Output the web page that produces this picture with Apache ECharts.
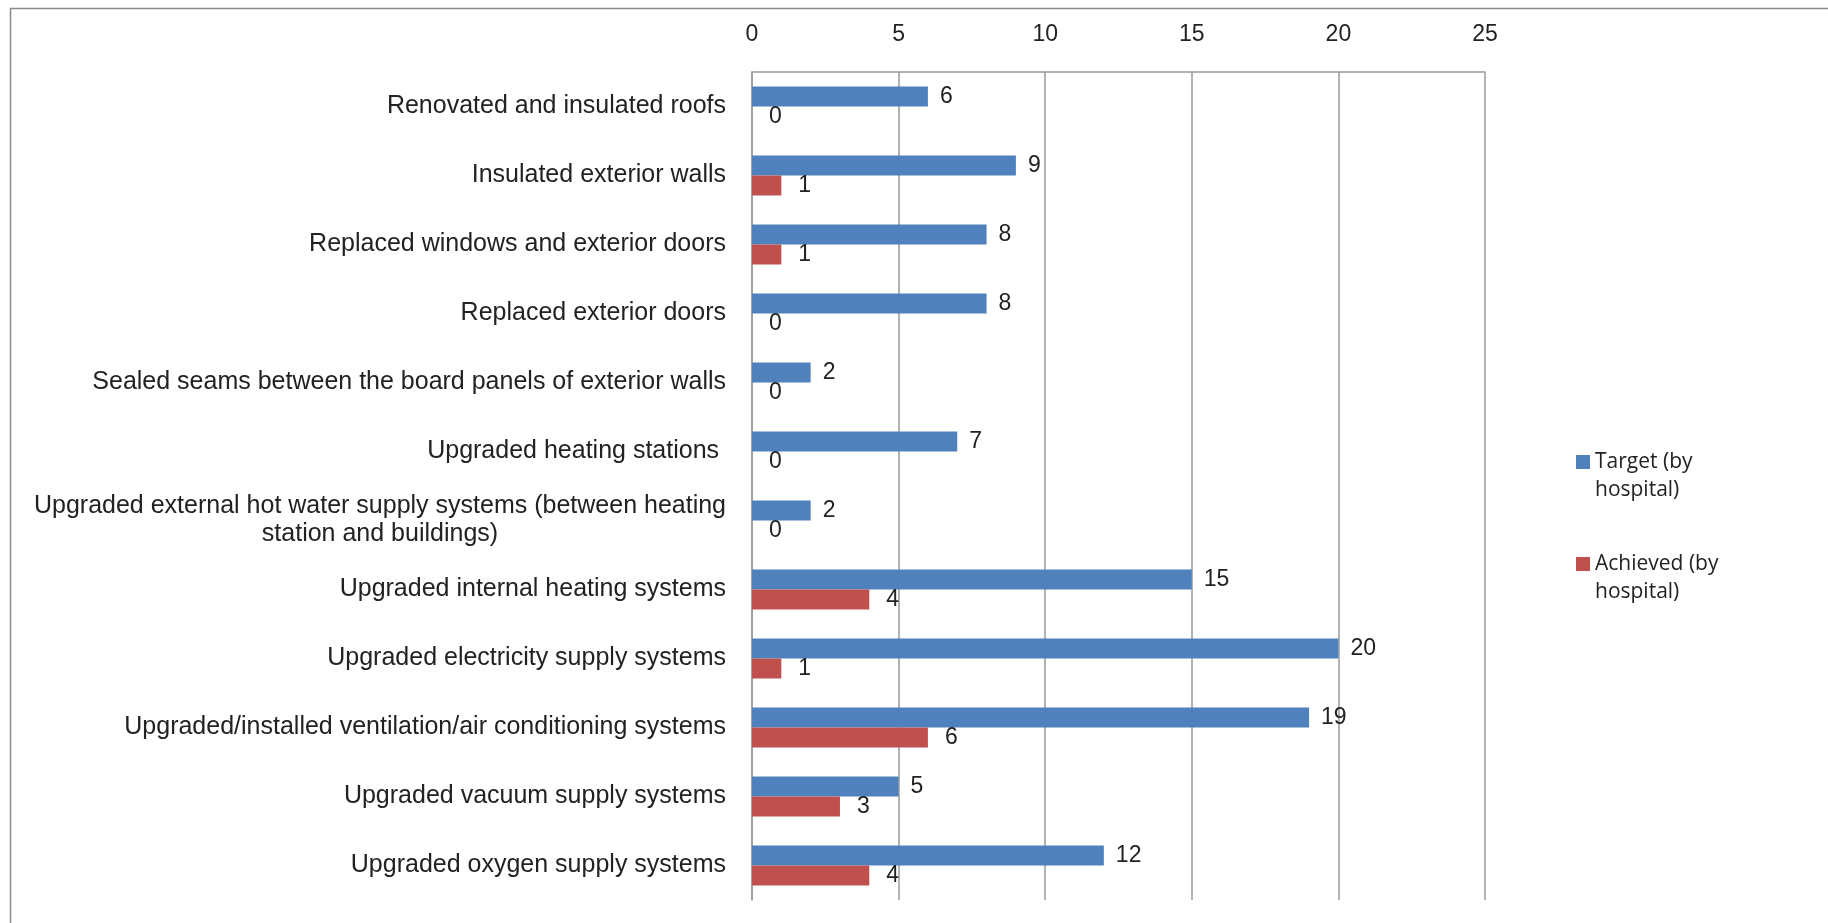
<!DOCTYPE html>
<html>
<head>
<meta charset="utf-8">
<script src="https://cdn.jsdelivr.net/npm/echarts@6/dist/echarts.min.js"></script>
<style>html,body{margin:0;padding:0;background:#fff}#c{width:1828px;height:923px}</style>
</head>
<body>
<div id="c"></div>
<script>
const categories = [
  "Renovated and insulated roofs",
  "Insulated exterior walls",
  "Replaced windows and exterior doors",
  "Replaced exterior doors",
  "Sealed seams between the board panels of exterior walls",
  "Upgraded heating stations ",
  "Upgraded external hot water supply systems (between heating\nstation and buildings)",
  "Upgraded internal heating systems",
  "Upgraded electricity supply systems",
  "Upgraded/installed ventilation/air conditioning systems",
  "Upgraded vacuum supply systems",
  "Upgraded oxygen supply systems"
];
const targetValues = [6, 9, 8, 8, 2, 7, 2, 15, 20, 19, 5, 12];
const achievedValues = [0, 1, 1, 0, 0, 0, 0, 4, 1, 6, 3, 4];
const xTicks = [0, 5, 10, 15, 20, 25];
const seriesNames = ["Target (by\nhospital)", "Achieved (by\nhospital)"];

const FONT = '"Liberation Sans", Arial, sans-serif';
const catStyle = {fontFamily: FONT, fontSize: 25, color: '#222', lineHeight: 28, align: 'center'};
const chart = echarts.init(document.getElementById('c'), null, {renderer: 'canvas'});
chart.setOption({
  animation: false,
  backgroundColor: '#fff',
  graphic: [{
    type: 'rect', left: 8, top: 6, silent: true,
    shape: {width: 1900, height: 1000},
    style: {fill: 'none', stroke: '#8c8c8c', lineWidth: 1.5}
  }],
  grid: {left: 752, right: 343, top: 72, bottom: 23, containLabel: false},
  legend: {
    orient: 'vertical', left: 1576, top: 420, padding: 0,
    itemWidth: 14, itemHeight: 14, itemGap: 18,
    icon: 'rect',
    formatter: name => ' \n' + name,
    textStyle: {fontFamily: '"Open Sans", sans-serif', fontSize: 21, color: '#222', lineHeight: 28},
    data: seriesNames
  },
  xAxis: {
    type: 'value', position: 'top', min: xTicks[0], max: xTicks[xTicks.length - 1], interval: 5,
    axisLine: {show: true, lineStyle: {color: '#9a9a9a', width: 1.5}},
    axisTick: {show: false},
    splitLine: {show: true, lineStyle: {color: '#9a9a9a', width: 1.5}},
    axisLabel: {margin: 26, fontFamily: FONT, fontSize: 23, color: '#222'}
  },
  yAxis: {
    type: 'category', inverse: true, data: categories,
    axisLine: {show: true, lineStyle: {color: '#9a9a9a', width: 1.5}},
    axisTick: {show: false},
    axisLabel: {
      margin: 26, fontFamily: FONT, fontSize: 25, color: '#222', lineHeight: 28, align: 'right',
      formatter: v => v.split('\n').map(s => '{c|' + s + '}').join('\n'),
      rich: {c: catStyle}
    }
  },
  series: [
    {
      name: seriesNames[0], type: 'bar', data: targetValues, barWidth: 20, barGap: '0%',
      itemStyle: {color: '#4F81BD'},
      label: {show: true, position: 'right', distance: 12, fontFamily: FONT, fontSize: 23, color: '#222'}
    },
    {
      name: seriesNames[1], type: 'bar', data: achievedValues, barWidth: 20, barGap: '0%',
      itemStyle: {color: '#C0504D'},
      label: {show: true, position: 'right', distance: 17, fontFamily: FONT, fontSize: 23, color: '#222'}
    }
  ]
});
</script>
</body>
</html>
